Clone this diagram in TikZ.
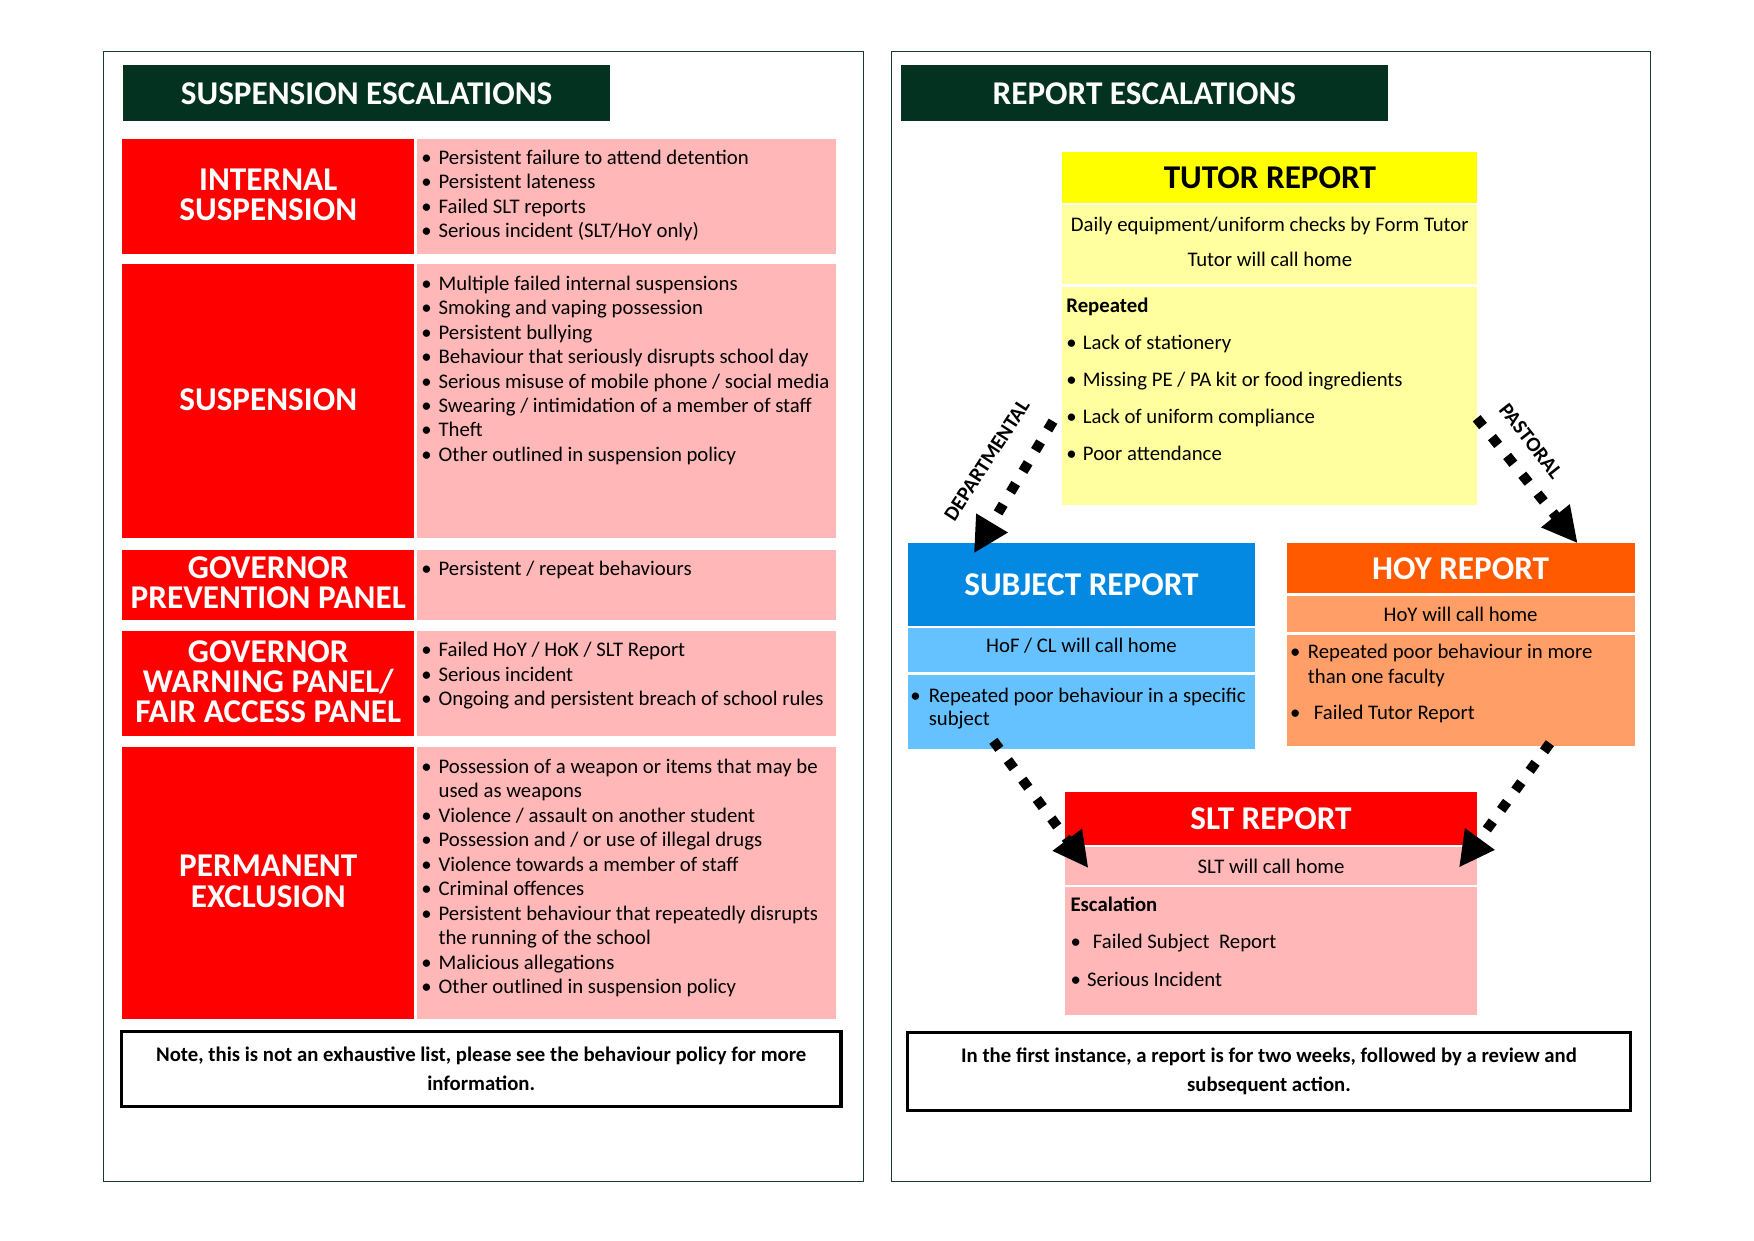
\documentclass[tikz,border=0pt]{standalone}
\usepackage{fontspec}
\setmainfont{Carlito}
\usetikzlibrary{arrows.meta, positioning, calc}
\definecolor{headgreen}{RGB}{3,51,32}
\definecolor{framegreen}{RGB}{25,60,45}
\definecolor{cellred}{RGB}{255,0,0}
\definecolor{cellpink}{RGB}{255,183,183}
\definecolor{tutoryellow}{RGB}{255,255,0}
\definecolor{tutorlight}{RGB}{255,255,160}
\definecolor{subjblue}{RGB}{3,137,226}
\definecolor{subjlight}{RGB}{102,194,255}
\definecolor{hoyorange}{RGB}{255,90,0}
\definecolor{hoylight}{RGB}{255,158,102}
\newcommand{\fsz}[2]{\fontsize{#1}{#2}\selectfont}
\newcommand{\bul}[1][2.9mm]{\makebox[#1][l]{\textbullet}}
\tikzset{
  panel/.style    = {draw=framegreen, line width=0.5pt},
  titlebar/.style = {fill=headgreen, text=white, font=\fsz{16}{19}\bfseries,
                     minimum width=82.4mm, minimum height=9.5mm, inner sep=0pt,
                     anchor=north west},
  cell/.style     = {anchor=north west, inner sep=0pt},
  redcell/.style  = {cell, fill=cellred, text=white, align=center, text depth=0.6mm,
                     font=\fsz{16}{14.5}\bfseries, minimum width=49.5mm},
  pinkcell/.style = {cell, fill=cellpink, minimum width=71mm},
  head/.style     = {cell, font=\fsz{16}{19}\bfseries},
  call/.style     = {cell, align=center, font=\fsz{10}{16.7}},
  list/.style     = {anchor=north west, inner sep=0pt, align=left,
                     font=\fsz{10}{11.8}},
  notebox/.style  = {cell, draw=black, line width=1.6pt, align=center,
                     font=\fsz{10}{14}\bfseries},
  dotarrow/.style = {line width=1.7mm, dash pattern=on 1.7mm off 2.4mm,
                     -{Triangle[length=6mm, width=5.8mm]}},
  side/.style     = {font=\fsz{10}{11}\bfseries, inner sep=0pt},
}

\begin{document}
\begin{tikzpicture}[x=1mm, y=-1mm]
  \useasboundingbox (0,0) rectangle (297,210);

  % outer panels
  \draw[panel] (17.6,8.7) rectangle (146.2,200.0);
  \draw[panel] (151.0,8.7) rectangle (279.4,200.0);

  % title bars
  \node[titlebar] (susptitle) at (20.8,11.0) {SUSPENSION ESCALATIONS};
  \node[titlebar] (reptitle) at (152.5,11.0) {REPORT ESCALATIONS};

  % suspension rows
  \foreach \n/\top/\h/\lbl in {1/23.5/19.5/{INTERNAL\\SUSPENSION},
      2/44.7/46.4/{SUSPENSION}, 3/93.0/11.9/{GOVERNOR\\PREVENTION PANEL},
      4/106.8/17.8/{GOVERNOR\\WARNING PANEL/\\FAIR ACCESS PANEL},
      5/126.5/45.9/{PERMANENT\\EXCLUSION}} {
    \node[redcell, minimum height=\h mm] (r\n) at (20.6,\top) {\lbl};
    \node[pinkcell, minimum height=\h mm] (p\n) at (70.5,\top) {};
  }

  % suspension reasons
  \node[list] (l1) at ([xshift=0.8mm, yshift=-1.8mm]p1.north west)
    {\bul Persistent failure to attend detention\\\bul Persistent lateness\\
     \bul Failed SLT reports\\\bul Serious incident (SLT/HoY only)};
  \node[list] (l2) at ([xshift=0.8mm, yshift=-1.9mm]p2.north west)
    {\bul Multiple failed internal suspensions\\\bul Smoking and vaping possession\\
     \bul Persistent bullying\\\bul Behaviour that seriously disrupts school day\\
     \bul Serious misuse of mobile phone / social media\\
     \bul Swearing / intimidation of a member of staff\\\bul Theft\\
     \bul Other outlined in suspension policy};
  \node[list] (l3) at ([xshift=0.8mm, yshift=-1.9mm]p3.north west)
    {\bul Persistent / repeat behaviours};
  \node[list] (l4) at ([xshift=0.8mm, yshift=-1.9mm]p4.north west)
    {\bul Failed HoY / HoK / SLT Report\\\bul Serious incident\\
     \bul Ongoing and persistent breach of school rules};
  \node[list] (l5) at ([xshift=0.8mm, yshift=-1.9mm]p5.north west)
    {\bul Possession of a weapon or items that may be\\
     \hspace*{2.9mm}used as weapons\\\bul Violence / assault on another student\\
     \bul Possession and / or use of illegal drugs\\
     \bul Violence towards a member of staff\\\bul Criminal offences\\
     \bul Persistent behaviour that repeatedly disrupts\\
     \hspace*{2.9mm}the running of the school\\\bul Malicious allegations\\
     \bul Other outlined in suspension policy};

  \node[notebox, minimum width=121.8mm, minimum height=12.7mm] (notel) at (20.3,174.4)
    {Note, this is not an exhaustive list, please see the behaviour policy for more\\information.};

  % tutor report
  \node[head, fill=tutoryellow, minimum width=70.3mm, minimum height=8.7mm] (tutor)
    at (179.8,25.6) {TUTOR REPORT};
  \node[call, fill=tutorlight, minimum width=70.3mm, minimum height=13.4mm, text depth=1.1mm]
    (tutorcall) at (179.8,34.7) {Daily equipment/uniform checks by Form Tutor\\Tutor will call home};
  \node[cell, fill=tutorlight, minimum width=70.3mm, minimum height=36.9mm] (tutorlist)
    at (179.8,48.5) {};
  \node[list, font=\fsz{10}{17.9}] (tutoritems) at ([xshift=0.7mm, yshift=-1.8mm]tutorlist.north west)
    {\textbf{Repeated}\\\bul[2.8mm]Lack of stationery\\
     \bul[2.8mm]Missing PE / PA kit or food ingredients\\
     \bul[2.8mm]Lack of uniform compliance\\\bul[2.8mm]Poor attendance};

  % subject report
  \node[head, fill=subjblue, text=white, minimum width=58.9mm, minimum height=14mm] (subj)
    at (153.6,91.9) {SUBJECT REPORT};
  \node[call, fill=subjlight, minimum width=58.9mm, minimum height=7.5mm, text depth=1.6mm]
    (subjcall) at (153.6,106.3) {HoF / CL will call home};
  \node[cell, fill=subjlight, minimum width=58.9mm, minimum height=12.5mm] (subjlist)
    at (153.6,114.2) {};
  \node[list, font=\fsz{10}{11.3}] (subjitems) at ([xshift=0.5mm, yshift=-2.2mm]subjlist.north west)
    {\bul[3.1mm]Repeated poor behaviour in a specific\\\hspace*{3.1mm}subject};

  % hoy report
  \node[head, fill=hoyorange, text=white, minimum width=58.9mm, minimum height=8.5mm] (hoy)
    at (217.8,91.9) {HOY REPORT};
  \node[call, fill=hoylight, minimum width=58.9mm, minimum height=6.2mm] (hoycall)
    at (217.8,100.8) {HoY will call home};
  \node[cell, fill=hoylight, minimum width=58.9mm, minimum height=18.9mm] (hoylist)
    at (217.8,107.4) {};
  \node[list, font=\fsz{10}{11.8}] (hoyitems) at ([xshift=0.6mm, yshift=-1.6mm]hoylist.north west)
    {\bul[3mm]Repeated poor behaviour in more\\\hspace*{3mm}than one faculty\\[2.1mm]
     \bul[4mm]Failed Tutor Report};

  % slt report
  \node[head, fill=cellred, text=white, minimum width=69.7mm, minimum height=8.9mm] (slt)
    at (180.3,134.1) {SLT REPORT};
  \node[call, fill=cellpink, minimum width=69.7mm, minimum height=6.4mm] (sltcall)
    at (180.3,143.4) {SLT will call home};
  \node[cell, fill=cellpink, minimum width=69.7mm, minimum height=21.6mm] (sltlist)
    at (180.3,150.2) {};
  \node[list, font=\fsz{10}{18}] (sltitems) at ([xshift=0.9mm, yshift=-1.6mm]sltlist.north west)
    {\textbf{Escalation}\\\bul[3.8mm]Failed Subject\ \ Report\\\bul[2.8mm]Serious Incident};

  \node[notebox, minimum width=122.4mm, minimum height=13.1mm] (noter) at (153.4,174.6)
    {In the first instance, a report is for two weeks, followed by a review and\\subsequent action.};

  % escalation arrows
  \draw[dotarrow] ([xshift=-1.5mm, yshift=-4.3mm]tutorlist.west)
    -- ([xshift=11.3mm, yshift=-1.8mm]subj.north west);
  \draw[dotarrow] ([xshift=-0.2mm, yshift=-3.8mm]tutorlist.east)
    -- ([xshift=-9.7mm, yshift=-0.1mm]hoy.north east);
  \draw[dotarrow] ([xshift=14.6mm, yshift=1.4mm]subjlist.south west)
    -- ([xshift=4mm, yshift=-3.6mm]sltcall.north west);
  \draw[dotarrow] ([xshift=-14.4mm, yshift=0.6mm]hoylist.south east)
    -- ([xshift=-3.1mm, yshift=-3.5mm]sltcall.north east);

  \node[side, rotate=57] (deptlbl) at (167.1,77.9) {DEPARTMENTAL};
  \node[side, rotate=-52] (pastlbl) at (259.2,74.7) {PASTORAL};
\end{tikzpicture}
\end{document}
